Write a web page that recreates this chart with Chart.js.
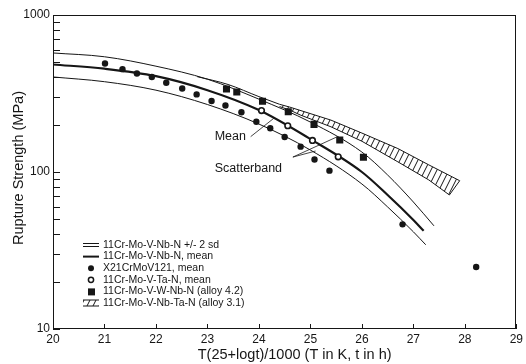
<!DOCTYPE html>
<html>
<head>
<meta charset="utf-8">
<script src="https://cdn.jsdelivr.net/npm/chart.js@4.4.1/dist/chart.umd.min.js"></script>
<style>
  html, body { margin: 0; padding: 0; background: #fff; }
  #wrap { width: 526px; height: 364px; }
</style>
</head>
<body>
<div id="wrap"><canvas id="chart" width="526" height="364"></canvas></div>
<script>
/* ==========================
   DATA
========================== */
const xTicks = [20, 21, 22, 23, 24, 25, 26, 27, 28, 29];
const yTicks = [10, 100, 1000];
const yMinorTicks = [20, 30, 40, 50, 60, 70, 80, 90, 200, 300, 400, 500, 600, 700, 800, 900];

// 11Cr-Mo-V-Nb-N master curve and +/- 2 sd band
const upperX = [20, 21, 22, 23, 24, 25, 26, 26.5, 27, 27.4];
const upperY = [573, 542, 472, 390, 291, 208, 134, 95.7, 64.4, 45.4];
const meanX  = [20, 21, 22, 23, 24, 25, 26, 26.5, 27, 27.2];
const meanY  = [484, 455, 408, 332, 248, 162, 100, 71.4, 49.5, 42.2];
const lowerX = [20, 21, 22, 23, 24, 25, 26, 26.5, 27, 27.24];
const lowerY = [403, 376, 332, 269, 202, 138, 83.9, 59.9, 41.6, 34.4];

// X21CrMoV121, mean
const x21X = [21.01, 21.35, 21.63, 21.92, 22.20, 22.51, 22.79, 23.08, 23.35, 23.66, 23.95, 24.22, 24.50, 24.81, 25.08, 25.37, 26.79, 28.22];
const x21Y = [491, 452, 424, 403, 370, 340, 312, 283, 265, 240, 209, 190, 167, 145, 120, 102, 46.4, 24.8];

// 11Cr-Mo-V-Ta-N, mean
const taX = [24.05, 24.56, 25.04, 25.54];
const taY = [246, 197, 159, 125];

// 11Cr-Mo-V-W-Nb-N (alloy 4.2)
const wX = [23.37, 23.57, 24.07, 24.57, 25.07, 25.57, 26.03];
const wY = [338, 323, 282, 242, 201, 160, 124];

// 11Cr-Mo-V-Nb-Ta-N (alloy 3.1) band: top edge left->right, bottom edge right->left
const bandTopX = [24.4, 24.6, 25.4, 26.0, 26.7, 27.3, 27.9];
const bandTopY = [270, 259, 214, 177, 141, 111, 88];
const bandBotX = [27.7, 27.3, 26.7, 26.0, 25.4, 24.8, 24.6, 24.4];
const bandBotY = [71.4, 89, 116, 157, 194, 231, 248, 261];
const bandLeadX = [22.8, 23.4, 24.0, 24.4];
const bandLeadY = [405, 361, 302, 270];

const legendLabels = [
  "11Cr-Mo-V-Nb-N +/- 2 sd",
  "11Cr-Mo-V-Nb-N, mean",
  "X21CrMoV121, mean",
  "11Cr-Mo-V-Ta-N, mean",
  "11Cr-Mo-V-W-Nb-N (alloy 4.2)",
  "11Cr-Mo-V-Nb-Ta-N (alloy 3.1)"
];

/* ==========================
   HELPERS
========================== */
const INK = "#161616";
const FONT = "'Liberation Sans', Arial, Helvetica, sans-serif";
const pts = (xs, ys) => xs.map((x, i) => ({ x: x, y: ys[i] }));

function makeHatch() {
  const c = document.createElement("canvas");
  c.width = 6; c.height = 12;
  const g = c.getContext("2d");
  g.strokeStyle = INK;
  g.lineWidth = 1;
  [-6, 0, 6].forEach(o => {
    g.beginPath();
    g.moveTo(o + 6, 0);
    g.lineTo(o, 12);
    g.stroke();
  });
  return g.createPattern(c, "repeat");
}
const hatch = makeHatch();

/* ==========================
   DECORATION PLUGIN
========================== */
const decor = {
  id: "decor",
  afterDraw(chart) {
    const { ctx, chartArea: a, scales: { x, y } } = chart;
    const seg = (x1, y1, x2, y2) => { ctx.beginPath(); ctx.moveTo(x1, y1); ctx.lineTo(x2, y2); ctx.stroke(); };
    ctx.save();
    ctx.strokeStyle = INK;
    ctx.fillStyle = INK;
    ctx.lineWidth = 1;

    // frame
    ctx.strokeRect(Math.round(a.left) + 0.5, Math.round(a.top) + 0.5,
      Math.round(a.right - a.left) - 1, Math.round(a.bottom - a.top) - 1);

    // inward ticks
    xTicks.forEach(v => {
      const px = Math.round(x.getPixelForValue(v)) + 0.5;
      seg(px, a.bottom, px, a.bottom - 5);
    });
    yTicks.concat(yMinorTicks).forEach(v => {
      const py = Math.round(y.getPixelForValue(v)) + 0.5;
      seg(a.left, py, a.left + 7, py);
    });

    // axis titles
    ctx.font = "14.5px " + FONT;
    ctx.textAlign = "center";
    ctx.textBaseline = "middle";
    ctx.fillText("T(25+logt)/1000 (T in K, t in h)", a.left + (a.right - a.left) / 2 + 10, 355);
    ctx.save();
    ctx.translate(19, (a.top + a.bottom) / 2 - 4);
    ctx.rotate(-Math.PI / 2);
    ctx.fillText("Rupture Strength (MPa)", 0, 0);
    ctx.restore();

    // annotations
    ctx.font = "12.5px " + FONT;
    ctx.textAlign = "left";
    ctx.fillText("Mean", x.getPixelForValue(23.14), y.getPixelForValue(167));
    ctx.fillText("Scatterband", x.getPixelForValue(23.14), y.getPixelForValue(105));
    ctx.lineWidth = 0.8;
    seg(x.getPixelForValue(23.84), y.getPixelForValue(168), x.getPixelForValue(24.29), y.getPixelForValue(220));
    const ax = x.getPixelForValue(24.66), ay = y.getPixelForValue(124.5);
    seg(ax, ay, x.getPixelForValue(25.10), y.getPixelForValue(136));
    seg(ax, ay, x.getPixelForValue(25.51), y.getPixelForValue(167));

    // legend
    ctx.font = "10.5px " + FONT;
    const lx = 83, tx = 103;
    legendLabels.forEach((label, i) => {
      const ly = 245 + i * 11.6;
      ctx.fillStyle = INK;
      ctx.fillText(label, tx, ly);
      ctx.lineWidth = 1;
      if (i === 0) {
        seg(lx, ly - 1.5, lx + 16, ly - 1.5);
        seg(lx, ly + 1.5, lx + 16, ly + 1.5);
      } else if (i === 1) {
        ctx.lineWidth = 2;
        seg(lx, ly, lx + 16, ly);
      } else if (i === 2) {
        ctx.beginPath(); ctx.arc(lx + 8, ly, 3, 0, Math.PI * 2); ctx.fill();
      } else if (i === 3) {
        ctx.lineWidth = 1.5;
        ctx.beginPath(); ctx.arc(lx + 8, ly, 2.6, 0, Math.PI * 2); ctx.stroke();
      } else if (i === 4) {
        ctx.fillRect(lx + 5, ly - 3, 7, 7);
      } else {
        ctx.fillStyle = hatch;
        ctx.fillRect(lx, ly - 3, 16, 6);
        seg(lx, ly - 3, lx + 16, ly - 3);
        seg(lx, ly + 3, lx + 16, ly + 3);
      }
    });
    ctx.restore();
  }
};

/* ==========================
   CHART
========================== */
const lineBase = { showLine: true, pointRadius: 0, borderColor: INK, backgroundColor: INK, cubicInterpolationMode: "monotone", fill: false };

new Chart(document.getElementById("chart"), {
  type: "scatter",
  data: {
    datasets: [
      { label: "X21CrMoV121, mean", data: pts(x21X, x21Y), pointStyle: "circle", pointRadius: 3.2, backgroundColor: INK, borderColor: INK, borderWidth: 0, order: 1 },
      { label: "11Cr-Mo-V-Ta-N, mean", data: pts(taX, taY), pointStyle: "circle", pointRadius: 2.8, backgroundColor: "#fff", borderColor: INK, borderWidth: 1.6, order: 1 },
      { label: "11Cr-Mo-V-W-Nb-N (alloy 4.2)", data: pts(wX, wY), pointStyle: "rect", pointRadius: 5, backgroundColor: INK, borderColor: INK, borderWidth: 0, order: 1 },
      Object.assign({}, lineBase, { label: "upper", data: pts(upperX, upperY), borderWidth: 1, order: 2 }),
      Object.assign({}, lineBase, { label: "mean", data: pts(meanX, meanY), borderWidth: 2.2, order: 2 }),
      Object.assign({}, lineBase, { label: "lower", data: pts(lowerX, lowerY), borderWidth: 1, order: 2 }),
      Object.assign({}, lineBase, { label: "band lead", data: pts(bandLeadX, bandLeadY), borderWidth: 1, order: 3 }),
      Object.assign({}, lineBase, {
        label: "11Cr-Mo-V-Nb-Ta-N (alloy 3.1)",
        data: pts(bandTopX.concat(bandBotX), bandTopY.concat(bandBotY)),
        cubicInterpolationMode: "default", tension: 0,
        borderWidth: 1, backgroundColor: hatch, fill: "shape", order: 3
      })
    ]
  },
  options: {
    responsive: false,
    animation: false,
    devicePixelRatio: 1,
    layout: { padding: { top: 15, right: 9, left: 0, bottom: 0 } },
    plugins: { legend: { display: false }, tooltip: { enabled: false } },
    scales: {
      x: {
        type: "linear", min: 20, max: 29,
        ticks: { stepSize: 1, padding: 3, color: INK, font: { family: FONT, size: 12 }, maxRotation: 0 },
        grid: { display: false, drawTicks: false },
        border: { display: false },
        afterFit(s) { s.height = 35; }
      },
      y: {
        type: "logarithmic", min: 10, max: 1000,
        ticks: {
          autoSkip: false, padding: 3, color: INK, font: { family: FONT, size: 12 },
          callback: v => yTicks.includes(Math.round(v)) && Math.abs(v - Math.round(v)) < 1e-6 ? String(Math.round(v)) : ""
        },
        grid: { display: false, drawTicks: false },
        border: { display: false },
        afterFit(s) { s.width = 53; }
      }
    }
  },
  plugins: [decor]
});
</script>
</body>
</html>
